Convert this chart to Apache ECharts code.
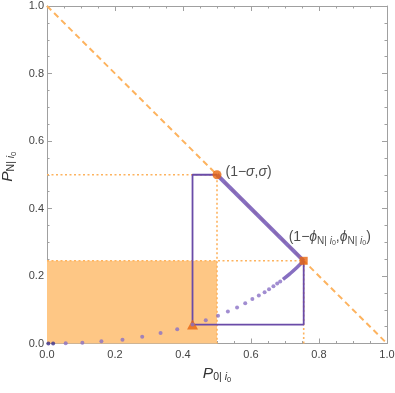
<!DOCTYPE html>
<html>
<head>
<meta charset="utf-8">
<script src="https://cdn.jsdelivr.net/npm/echarts@6/dist/echarts.min.js"></script>
<style>html,body{margin:0;padding:0;background:#fff}#c{width:395px;height:393px}</style>
</head>
<body>
<div id="c"></div>
<script>
// ---- data ----
const tickValues = [0, 0.2, 0.4, 0.6, 0.8, 1.0];
const tickLabels = ['0.0', '0.2', '0.4', '0.6', '0.8', '1.0'];
const diagonal = [[0, 1], [1, 0]];
const fillBox = [[0, 0], [0.5, 0.245]];
const sigmaGuide = [[0, 0.5], [0.5, 0.5], [0.5, 0]];
const phiGuide = [[0, 0.245], [0.755, 0.245], [0.755, 0]];
const purpleFrame = [[0.5, 0.5], [0.428, 0.5], [0.428, 0.056], [0.755, 0.056], [0.755, 0.245]];
const diagSegment = [[0.5, 0.5], [0.755, 0.245]];
const curveSegment = [[0.694, 0.190], [0.715, 0.207], [0.735, 0.225], [0.755, 0.245]];
const curveDots = [[0.055, 0.001], [0.104, 0.002], [0.160, 0.007], [0.222, 0.011], [0.280, 0.020],
  [0.334, 0.031], [0.383, 0.042], [0.428, 0.056], [0.467, 0.069], [0.503, 0.082], [0.532, 0.095],
  [0.559, 0.107], [0.583, 0.119], [0.604, 0.132], [0.623, 0.142], [0.640, 0.152], [0.653, 0.161],
  [0.666, 0.170], [0.677, 0.178], [0.686, 0.184]];
const originDots = [[0.004, 0], [0.018, 0]];
const sigmaPoint = [0.5, 0.5];
const phiPoint = [0.755, 0.245];
const startPoint = [0.428, 0.056];

const ORANGE_LINE = '#FDB35F';
const ORANGE_MARK = '#E8650E';
const PURPLE = '#6A4BA8';
const FONT = 'Liberation Sans';

const subRich = {
  p: {fontSize: 15.5, fontStyle: 'italic', fontFamily: FONT, color: '#333', verticalAlign: 'middle'},
  s: {fontSize: 10.5, fontFamily: FONT, color: '#333', padding: [8, 0, 0, 0], verticalAlign: 'middle'},
  si: {fontSize: 10.5, fontStyle: 'italic', fontFamily: FONT, color: '#333', padding: [8, 0, 0, 0], verticalAlign: 'middle'},
  ss: {fontSize: 7.5, fontFamily: FONT, color: '#333', padding: [13, 0, 0, 0], verticalAlign: 'middle'}
};
const labRich = {
  t: {fontSize: 14, fontFamily: FONT, color: '#222', verticalAlign: 'middle'},
  i: {fontSize: 14, fontStyle: 'italic', fontFamily: FONT, color: '#222', verticalAlign: 'middle'},
  s: {fontSize: 10, fontFamily: FONT, color: '#222', padding: [7, 0, 0, 0], verticalAlign: 'middle'},
  si: {fontSize: 10, fontStyle: 'italic', fontFamily: FONT, color: '#222', padding: [7, 0, 0, 0], verticalAlign: 'middle'},
  ss: {fontSize: 7, fontFamily: FONT, color: '#222', padding: [12, 0, 0, 0], verticalAlign: 'middle'}
};

function fmt(v) {
  for (let k = 0; k < tickValues.length; k++) if (Math.abs(v - tickValues[k]) < 1e-9) return tickLabels[k];
  return '';
}

function axisCommon(showLabel) {
  return {
    type: 'value', min: 0, max: 1, interval: 0.2,
    axisLine: {show: true, onZero: false, lineStyle: {color: '#A0A0A0', width: 1}},
    axisTick: {show: true, inside: true, length: 5, lineStyle: {color: '#A0A0A0'}},
    minorTick: {show: true, splitNumber: 4, length: 2.5, lineStyle: {color: '#A0A0A0'}},
    splitLine: {show: false},
    minorSplitLine: {show: false},
    axisLabel: {show: showLabel, formatter: fmt, fontSize: 11, fontFamily: FONT, color: '#444', margin: 6}
  };
}

const chart = echarts.init(document.getElementById('c'), null, {renderer: 'canvas'});
chart.setOption({
  animation: false,
  grid: {left: 47, right: 8, top: 6, bottom: 49.5, containLabel: false, outerBoundsMode: 'none'},
  xAxis: [
    Object.assign(axisCommon(true), {position: 'bottom',
      name: '{p|P}{s|0| }{si|i}{ss|0}', nameLocation: 'middle', nameGap: 16,
      nameTextStyle: {rich: subRich}}),
    Object.assign(axisCommon(false), {position: 'top'})
  ],
  yAxis: [
    Object.assign(axisCommon(true), {position: 'left',
      axisLabel: {show: true, formatter: fmt, fontSize: 11, fontFamily: FONT, color: '#444', margin: 3},
      name: '{p|P}{s|N| }{si|i}{ss|0}', nameLocation: 'middle', nameGap: 27,
      nameTextStyle: {rich: subRich, padding: [0, 0, 0, 16]}}),
    Object.assign(axisCommon(false), {position: 'right'})
  ],
  series: [
    {type: 'line', data: fillBox, symbol: 'none', lineStyle: {opacity: 0}, silent: true, z: 1,
      markArea: {silent: true, itemStyle: {color: '#FEC785', opacity: 1},
        data: [[{coord: fillBox[0]}, {coord: fillBox[1]}]]}},
    {type: 'line', data: diagonal, symbol: 'none', z: 2,
      lineStyle: {color: ORANGE_LINE, width: 2, type: [6, 4]}},
    {type: 'line', data: sigmaGuide, symbol: 'none', z: 2,
      lineStyle: {color: ORANGE_LINE, width: 1.6, type: [2, 2.5]}},
    {type: 'line', data: phiGuide, symbol: 'none', z: 2,
      lineStyle: {color: ORANGE_LINE, width: 1.6, type: [2, 2.5]}},
    {type: 'line', data: purpleFrame, symbol: 'none', z: 3,
      lineStyle: {color: PURPLE, width: 1.8}},
    {type: 'line', data: diagSegment, symbol: 'none', z: 3,
      lineStyle: {color: '#7A5FBA', width: 4, opacity: 0.9}},
    {type: 'line', data: curveSegment, symbol: 'none', z: 3, smooth: true,
      lineStyle: {color: '#7A5FBA', width: 3.5, opacity: 0.9}},
    {type: 'scatter', data: [startPoint], symbol: 'triangle', symbolSize: [11, 10], z: 4,
      itemStyle: {color: ORANGE_MARK}},
    {type: 'scatter', data: curveDots, symbol: 'circle', symbolSize: 4, z: 5,
      itemStyle: {color: '#8A70C6'}},
    {type: 'scatter', data: originDots, symbol: 'circle', symbolSize: 4, z: 5,
      itemStyle: {color: '#3B2F8C'}},
    {type: 'scatter', data: [sigmaPoint], symbol: 'circle', symbolSize: 9, z: 6,
      itemStyle: {color: ORANGE_MARK},
      label: {show: true, position: 'right', distance: 4, offset: [0, -3],
        formatter: '{t|(1−}{i|σ}{t|,}{i|σ}{t|)}', rich: labRich}},
    {type: 'scatter', data: [phiPoint], symbol: 'rect', symbolSize: 8, z: 6,
      itemStyle: {color: ORANGE_MARK},
      label: {show: true, position: 'top', align: 'left', distance: 10, offset: [-15, 0],
        formatter: '{t|(1−}{i|ϕ}{s|N| }{si|i}{ss|0}{t|,}{i|ϕ}{s|N| }{si|i}{ss|0}{t|)}', rich: labRich}}
  ]
});
</script>
</body>
</html>
